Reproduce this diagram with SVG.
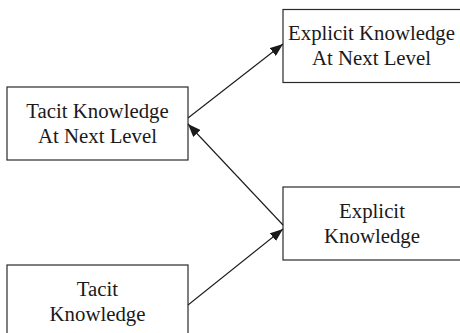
<svg xmlns="http://www.w3.org/2000/svg" width="460" height="333" viewBox="0 0 460 333">
  <style>
    .box { fill: #ffffff; stroke: #2a2a2a; stroke-width: 1.2; }
    .label { font-family: "Liberation Serif", "Times New Roman", serif; font-size: 20.8px; fill: #1a1a1a; text-anchor: middle; }
    .link { stroke: #1a1a1a; stroke-width: 1.1; fill: none; marker-end: url(#head); }
  </style>
  <defs>
    <marker id="head" markerUnits="userSpaceOnUse" markerWidth="14" markerHeight="10" refX="13" refY="5" orient="auto">
      <path d="M0,0 L13,5 L0,10 Z" fill="#1a1a1a"/>
    </marker>
  </defs>
  <rect width="460" height="333" fill="#ffffff"/>

  <g id="tacit-next">
    <rect class="box" x="7" y="87" width="181" height="73"/>
    <text class="label" x="97.5" y="118">Tacit Knowledge</text>
    <text class="label" x="97.5" y="143">At Next Level</text>
  </g>

  <g id="explicit-next">
    <rect class="box" x="283" y="9.5" width="180" height="73"/>
    <text class="label" x="371.5" y="40">Explicit Knowledge</text>
    <text class="label" x="371.5" y="65">At Next Level</text>
  </g>

  <g id="explicit">
    <rect class="box" x="283" y="187" width="180" height="73"/>
    <text class="label" x="372" y="218">Explicit</text>
    <text class="label" x="372" y="243">Knowledge</text>
  </g>

  <g id="tacit">
    <rect class="box" x="7" y="265" width="181" height="73"/>
    <text class="label" x="97.5" y="296">Tacit</text>
    <text class="label" x="97.5" y="321">Knowledge</text>
  </g>

  <g id="connectors">
    <line class="link" x1="188" y1="118" x2="283" y2="44"/>
    <line class="link" x1="283" y1="225" x2="188" y2="124"/>
    <line class="link" x1="188" y1="305" x2="283" y2="229"/>
  </g>
</svg>
